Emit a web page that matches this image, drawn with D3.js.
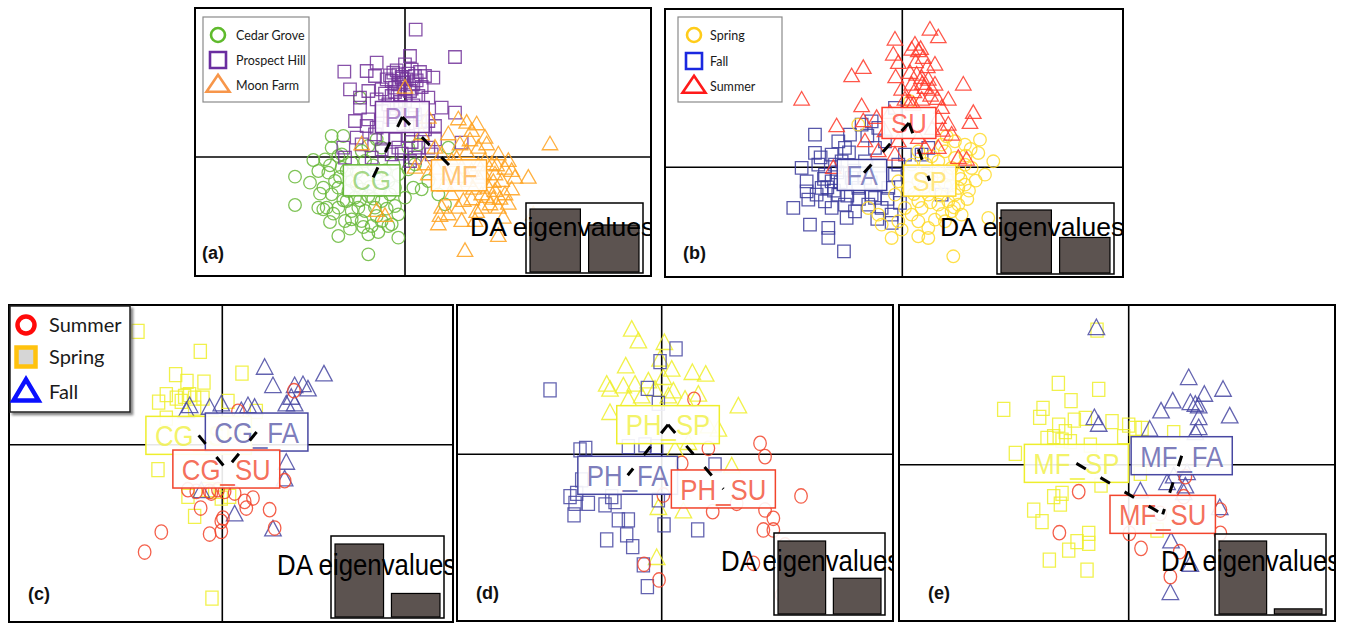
<!DOCTYPE html>
<html><head><meta charset="utf-8">
<script src="https://cdn.jsdelivr.net/npm/d3@7"></script>
<style>
html,body{margin:0;padding:0;background:#fff;}
svg{display:block;}
</style></head><body>
<svg id="fig" width="1348" height="623"></svg>
<script>
// ---------------- data: discriminant scores (LD1, LD2) ----------------
// (a) sites
const aLegendNames = ["Cedar Grove", "Prospect Hill", "Moon Farm"];
const aGroupNames = ["CG", "PH", "MF"];
const aCG = [[-3.30,-0.59],[-3.30,-1.44],[-2.75,-0.09],[-2.40,-0.07],[-2.20,0.63],[-1.85,0.63],[-2.20,0.28],[-2.00,0.03],[-2.60,-0.42],[-2.30,-0.47],[-2.10,-0.72],[-2.85,-0.77],[-2.45,-0.92],[-1.90,-0.32],[-1.60,-0.17],[-1.30,0.18],[-1.10,0.33],[-0.85,0.53],[-0.70,0.28],[-1.35,1.78],[-2.60,-1.52],[-2.45,-1.57],[-2.20,-1.12],[-2.00,-0.92],[-1.75,-1.32],[-1.50,-1.22],[-1.30,-0.97],[-1.10,-1.17],[-0.90,-1.52],[-0.70,-1.32],[-0.45,-1.12],[-0.30,-1.47],[-0.20,-1.72],[-0.40,-2.02],[-0.70,-1.92],[-1.00,-2.07],[-1.30,-1.92],[-1.60,-1.87],[-1.80,-1.92],[-2.00,-2.37],[-1.10,-2.32],[-0.50,-2.07],[-0.20,-2.42],[-1.10,-2.92],[0.10,-0.37],[0.30,-0.22],[0.50,-0.97],[0.70,-0.72],[1.00,-1.12],[1.20,-1.42],[1.30,0.28],[0.10,0.28],[0.40,0.38],[-0.20,-0.52],[-0.50,-0.72],[-0.85,-0.52],[-1.60,-0.72],[-1.70,-1.02],[-2.00,-1.52],[-1.40,-1.52],[-1.20,-1.62],[-1.60,-1.62],[-0.30,-0.92],[0.00,-1.22],[0.25,-0.92],[-1.90,0.08],[-1.20,-0.12],[-2.35,-1.52],[-0.85,-1.77],[-2.55,-1.10],[-1.45,-0.45],[-0.95,-0.25],[-2.25,-1.95],[-1.25,-2.10],[-2.25,-0.25],[-1.95,-0.60],[-1.75,-0.40],[-1.45,-0.85],[-1.05,-0.90],[-0.75,-1.00],[-0.55,-1.55],[-1.85,-1.30],[-2.15,-1.70],[-1.35,-1.30],[-0.95,-1.25],[-0.60,-0.40],[-0.35,-0.20],[-1.65,-2.15],[-0.80,-2.25]];
const aPH = [[0.32,3.82],[1.50,3.00],[0.15,3.03],[-0.85,2.83],[0.00,2.78],[-1.82,2.56],[-1.15,2.58],[-0.90,2.43],[-0.35,2.53],[-0.20,2.48],[0.10,2.50],[0.30,2.43],[0.60,2.43],[0.85,2.38],[-0.40,2.28],[-0.55,2.33],[-0.05,2.23],[-1.65,2.03],[-1.10,1.98],[-0.70,2.03],[-0.30,2.08],[0.15,1.98],[0.40,1.83],[-1.35,1.78],[-0.85,1.73],[-0.40,1.83],[-0.15,1.88],[0.70,1.78],[1.10,1.48],[1.50,1.33],[-1.35,1.48],[-1.50,1.08],[-1.10,1.13],[-1.15,0.93],[-0.85,0.88],[-1.45,0.58],[0.70,1.08],[0.90,0.93],[0.60,0.83],[1.70,0.43],[0.90,0.53],[0.70,0.28],[0.80,0.08],[0.30,-0.02],[0.15,-0.12],[-0.20,0.28],[-0.40,0.08],[-0.70,0.23],[-1.30,0.38],[-1.80,-0.02],[-1.85,0.28],[-1.00,-0.02],[-0.30,0.53],[0.10,0.63],[0.40,0.28],[-0.20,2.18],[0.05,2.33],[0.25,2.18],[-0.50,1.58],[0.00,1.68],[-0.70,1.38],[-0.30,1.28],[0.30,1.28],[-0.90,0.68],[-0.05,0.98],[-0.10,2.40],[0.00,2.05],[-0.25,1.45],[-0.45,2.45],[-0.25,2.60],[0.20,2.62],[0.45,2.55],[-0.10,2.35],[0.35,2.30],[-0.30,1.95],[0.20,2.05],[0.50,2.10],[-0.60,1.90],[-0.15,1.65],[0.25,1.55],[-0.45,1.20],[0.45,1.05],[-0.65,0.55],[0.20,0.45],[-0.10,0.10]];
const aMF = [[0.00,2.08],[1.60,1.13],[2.15,0.98],[1.85,1.03],[1.30,0.68],[2.00,0.78],[2.40,0.58],[2.45,0.38],[2.20,0.28],[4.35,0.38],[1.65,0.38],[2.80,0.08],[3.10,-0.12],[2.40,-0.12],[3.20,-0.42],[3.70,-0.62],[2.70,-0.52],[2.90,-0.72],[3.20,-0.97],[2.70,-1.02],[2.50,-0.92],[3.00,-1.12],[2.55,-1.42],[2.30,-1.52],[2.80,-1.52],[2.95,-1.82],[2.00,-1.27],[1.75,-1.32],[1.60,-1.52],[1.40,-1.12],[1.10,-1.52],[1.30,-1.72],[1.05,-1.77],[1.00,-2.02],[1.70,-1.92],[2.10,-1.92],[2.80,-2.37],[1.80,-2.82],[-0.85,-1.62],[-0.60,-1.77],[0.30,-0.32],[0.60,-0.22],[0.70,-0.52],[0.90,0.28],[1.10,0.08],[1.40,-0.12],[1.30,-0.52],[1.70,-0.32],[1.90,-0.72],[1.50,-0.82],[2.20,-0.62],[0.70,1.18],[0.50,0.68],[-1.30,0.38],[3.85,-1.72],[3.90,-2.32],[2.00,-0.42],[3.30,-0.62],[2.60,-0.22],[2.30,-1.12],[2.65,-0.75],[2.85,-1.25],[2.45,-1.20],[1.55,-0.05],[1.85,0.15],[2.20,-0.25],[2.75,-0.25],[3.00,-0.35],[2.35,-0.50],[1.60,-0.60],[2.05,-0.95],[2.65,-1.25],[3.10,-1.40],[2.15,-1.65],[1.20,-0.85],[0.95,-0.35],[1.95,0.50]];
const aCentroids = [[-1.00,-0.70],[-0.08,1.20],[1.62,-0.55]];
const aLinks = [[1,0],[1,2]];
const aEigen = [820, 612];

// (b) seasons
const bLegendNames = ["Spring", "Fall", "Summer"];
const bGroupNames = ["SP", "FA", "SU"];
const bSP = [[-1.32,1.28],[0.23,1.98],[1.33,0.93],[1.58,0.78],[1.88,0.68],[2.33,0.83],[2.28,0.43],[2.73,0.18],[2.48,-0.22],[1.88,0.08],[1.58,0.28],[1.28,0.48],[1.08,0.18],[0.88,0.33],[0.48,0.48],[0.28,0.08],[1.68,-0.22],[1.88,-0.52],[1.58,-0.82],[1.68,-1.12],[1.48,-1.32],[1.78,-1.42],[2.58,-1.52],[1.28,-1.62],[0.98,-1.57],[0.78,-1.82],[0.48,-1.62],[0.28,-1.42],[0.08,-1.22],[-0.12,-1.62],[-0.02,-1.87],[-0.32,-2.12],[-0.62,-1.72],[-1.02,-1.22],[-0.72,-1.42],[0.78,-2.12],[0.48,-2.07],[1.53,-2.67],[1.08,-1.12],[0.78,-0.82],[0.48,-1.02],[0.18,-0.62],[0.48,-0.42],[0.88,-0.32],[1.28,-0.52],[1.08,-0.12],[1.48,-0.02],[-0.22,-0.82],[1.68,-0.62],[2.08,-0.02],[1.38,-1.02],[0.58,-1.22],[-0.12,-0.42],[1.18,0.68],[1.95,-0.95],[1.45,-0.55],[1.15,-0.85],[2.20,-0.40],[0.65,-0.60],[1.00,-0.70],[1.35,-0.25],[1.75,-0.35],[2.00,-0.70],[1.55,-1.20],[1.20,-1.40],[0.85,-1.05],[0.35,-0.80],[1.90,0.35],[2.05,0.55],[0.70,0.10]];
const bFA = [[-2.62,0.98],[-2.62,0.43],[-3.02,-0.02],[-3.27,-1.22],[-2.77,-1.72],[-2.22,-1.82],[-2.22,-2.12],[-1.75,-2.52],[-2.87,-0.42],[-2.87,-0.72],[-2.82,-0.97],[-2.42,-0.62],[-2.32,-0.22],[-2.52,0.08],[-1.92,0.78],[-1.72,0.58],[-2.12,0.38],[-1.82,0.18],[-1.57,0.98],[-1.22,1.28],[-0.92,1.38],[-0.22,1.78],[-0.72,1.18],[-2.12,-0.42],[-1.92,-0.82],[-1.72,-1.12],[-2.12,-1.22],[-1.42,-1.32],[-1.02,-1.12],[-0.82,-0.92],[-0.62,-1.22],[-0.32,-1.42],[-0.32,-1.67],[-0.92,-0.82],[-0.42,-0.62],[-0.22,-0.22],[-0.12,0.08],[0.08,0.38],[0.78,0.58],[-1.32,-0.62],[-1.52,-0.32],[-1.12,0.18],[-0.82,0.58],[-0.52,0.78],[-1.12,-0.32],[-2.32,-1.02],[-2.57,-0.82],[-2.02,0.08],[1.18,-0.82],[0.58,0.38],[-0.07,-1.07],[-1.67,-1.52],[-2.25,-0.60],[-1.65,-0.85],[-1.95,-0.15],[-2.35,-0.35],[-2.05,-0.70],[-1.85,-0.45],[-1.45,-0.10],[-1.30,-0.95],[-0.95,-0.45],[-0.70,0.05],[-0.45,-0.95],[-2.45,0.30],[-1.60,0.45],[-1.05,0.95],[-0.75,-1.55]];
const bSU = [[0.83,4.13],[1.08,3.90],[-0.22,3.83],[0.38,3.68],[0.28,3.53],[0.48,3.48],[0.63,3.28],[-0.27,3.38],[-0.12,3.13],[-1.17,2.98],[-1.52,2.73],[0.23,2.83],[0.43,2.78],[0.58,2.68],[0.78,2.63],[0.98,2.48],[0.68,2.38],[0.88,2.33],[1.83,2.48],[-0.02,2.33],[-3.02,2.03],[-1.22,1.83],[0.23,1.93],[0.58,2.03],[1.38,2.03],[1.18,1.78],[2.13,1.63],[2.03,1.33],[1.38,1.28],[1.48,0.98],[1.08,1.48],[-1.17,1.38],[-1.97,1.23],[-0.77,1.48],[-0.52,1.08],[-0.72,0.48],[-0.22,0.38],[-0.12,0.78],[0.68,0.58],[1.08,0.58],[1.93,0.23],[1.68,0.28],[-1.12,0.78],[-2.07,-0.02],[0.33,1.88],[0.08,2.03],[-0.37,1.63],[0.48,0.88],[0.98,3.08],[0.28,2.48],[0.55,3.55],[0.40,3.15],[0.75,3.00],[0.60,2.50],[0.85,2.15],[1.05,2.05],[0.35,2.25],[-0.20,2.70],[1.20,1.10],[0.90,1.15]];
const bCentroids = [[0.82,-0.40],[-1.21,-0.23],[0.20,1.33]];
const bLinks = [[2,1],[2,0]];
const bEigen = [745, 420];

// (c)-(e) legend
const seasonLegendNames = ["Summer", "Spring", "Fall"];

// (c) Cedar Grove by season
const cGroupNames = ["CG_SP", "CG_FA", "CG_SU"];
const cSP = [[-2.53,3.40],[-0.66,2.80],[-1.40,2.10],[-1.06,1.90],[-0.55,1.88],[0.59,2.15],[-1.68,1.50],[-1.91,1.28],[-1.38,1.40],[-1.13,1.45],[-0.98,1.50],[-0.83,1.40],[-0.58,1.40],[-1.23,1.30],[0.17,1.30],[-1.68,0.80],[-1.93,-0.75],[-1.03,-1.55],[-0.83,-2.15],[-0.03,-1.60],[0.22,-1.55],[-0.31,-4.60],[-0.43,-1.35],[1.02,1.00],[-0.83,1.10],[-0.23,-1.40]];
const cFA = [[1.27,2.30],[1.52,1.75],[3.05,2.10],[2.42,1.78],[2.57,1.65],[2.17,1.75],[1.92,1.20],[2.17,1.20],[2.07,1.40],[0.77,1.15],[0.97,1.10],[-0.03,1.20],[-0.38,1.10],[-0.98,1.15],[-1.08,1.00],[1.92,-0.55],[1.87,-1.05],[0.37,-2.10],[1.52,-2.55],[-0.63,-1.40],[0.57,1.00]];
const cSU = [[2.15,1.62],[0.47,1.00],[1.87,-1.08],[-1.03,-1.35],[-0.78,-1.40],[-0.38,-1.40],[-0.13,-1.35],[0.07,-1.40],[-0.65,-1.90],[0.72,-1.90],[0.92,-1.60],[0.67,-1.70],[1.42,-1.95],[0.02,-2.20],[-0.03,-2.60],[-0.38,-2.68],[-1.83,-2.62],[-2.33,-3.22],[1.57,-2.50],[-0.03,-2.30],[-0.33,-1.45],[0.37,-1.45]];
const cCentroids = [[-0.71,0.28],[1.03,0.38],[0.12,-0.73]];
const cLinks = [[0,2],[1,2]];
const cEigen = [310, 100];

// (d) Prospect Hill by season
const dGroupNames = ["PH_SP", "PH_FA", "PH_SU"];
const dSP = [[-0.90,3.73],[-0.70,3.38],[0.08,3.33],[-0.05,2.83],[-1.08,2.63],[0.30,2.53],[0.92,2.43],[1.32,2.38],[-1.65,2.08],[-1.55,1.93],[-1.15,2.03],[-0.80,2.08],[-0.40,2.18],[0.05,2.28],[-0.20,1.93],[0.35,1.88],[0.70,1.63],[1.10,1.78],[-1.00,1.63],[-0.60,1.73],[2.30,1.43],[-1.55,1.23],[1.70,0.73],[0.80,0.33],[0.40,0.13],[2.10,-0.37],[-0.10,-1.62],[0.65,-1.72],[-0.15,-3.12],[0.20,1.73],[1.40,0.83]];
const dFA = [[0.43,3.16],[-0.05,2.78],[-3.35,1.93],[-0.43,1.98],[-0.10,1.53],[-2.45,0.13],[-2.28,0.18],[-1.00,0.23],[-0.50,0.28],[-0.15,0.23],[1.60,-0.32],[-2.75,-1.27],[-2.55,-1.17],[-2.60,-1.47],[-2.20,-1.47],[-1.70,-1.52],[-1.40,-1.42],[-2.63,-1.82],[-1.30,-1.97],[-1.00,-1.97],[-1.05,-2.42],[-1.65,-2.57],[-0.87,-2.77],[-0.55,-3.32],[-0.43,-3.97],[0.07,-2.12],[1.08,-2.27],[-2.40,-0.77],[-1.50,-1.27],[-0.10,-1.37]];
const dSU = [[0.97,1.65],[2.95,0.33],[3.10,-0.07],[1.40,0.18],[0.60,-0.27],[4.18,-1.25],[3.10,-1.67],[3.35,-1.92],[3.05,-2.27],[3.35,-2.27],[3.70,-2.72],[1.53,-1.72],[2.25,-1.47],[0.05,-1.22],[-0.53,-3.30],[-0.08,-3.77],[2.75,-3.27],[3.60,-4.22]];
const dCentroids = [[0.19,0.89],[-1.02,-0.63],[1.85,-1.04]];
const dLinks = [[0,1],[0,2]];
const dEigen = [288, 141];

// (e) Moon Farm by season
const eGroupNames = ["MF_SP", "MF_FA", "MF_SU"];
const eSP = [[-0.95,4.04],[-2.11,2.44],[-0.90,2.26],[-1.73,1.92],[-3.75,1.66],[-2.57,1.69],[-2.67,1.42],[-2.10,1.19],[-1.63,1.34],[-1.30,1.39],[-0.50,1.29],[0.00,1.19],[0.20,1.09],[0.40,1.09],[-0.15,0.84],[-1.90,0.99],[-2.45,0.79],[-2.25,0.84],[-2.00,0.74],[-1.75,0.69],[-1.15,0.59],[-3.40,0.34],[1.35,0.96],[0.35,-0.26],[-0.83,-0.61],[-2.25,-0.96],[-2.00,-0.86],[-2.05,-1.18],[-2.85,-1.36],[-2.60,-1.71],[-1.20,-2.06],[-1.55,-2.31],[-1.20,-2.36],[-1.80,-2.56],[-2.38,-2.86],[-1.25,-3.16],[0.85,-1.96]];
const eFA = [[-0.97,4.09],[1.80,2.59],[2.83,2.24],[2.27,2.09],[1.32,1.89],[1.85,1.84],[2.00,1.79],[2.10,1.74],[0.97,1.59],[3.03,1.44],[2.10,1.39],[2.10,1.09],[-1.03,1.39],[-0.90,1.19],[0.63,1.04],[2.00,0.94],[1.15,-0.56],[1.70,-0.66],[1.65,-0.86],[0.35,-0.81],[2.73,-1.31],[1.27,-2.31],[1.85,-3.01],[1.25,-3.86],[1.35,-0.36],[1.75,-0.26]];
const eSU = [[-1.50,-0.81],[-2.08,-2.04],[0.02,-2.06],[0.37,-2.51],[1.65,-0.96],[1.70,-0.36],[2.75,-1.36],[2.75,-2.06],[1.53,-2.61],[1.25,-3.36],[0.95,-1.46]];
const eCentroids = [[-1.57,0.04],[1.59,0.27],[1.02,-1.49]];
const eLinks = [[0,2],[1,2]];
const eEigen = [356, 25];

// ---------------- drawing ----------------
const svg = d3.select("#fig");
const defs = svg.append("defs");
const shadow = defs.append("filter").attr("id", "legShadow")
  .attr("x", "-10%").attr("y", "-10%").attr("width", "130%").attr("height", "130%");
shadow.append("feDropShadow").attr("dx", 2.5).attr("dy", 2.5).attr("stdDeviation", 1.2)
  .attr("flood-color", "#666").attr("flood-opacity", 0.8);

const UNIT = 100 / 3; // pixels per discriminant unit

const topSizes = {r: 6.3, s: 12.5, tw: 15.5, th: 13.5, kx: 1};
const botSizes = {r: 7.2, s: 14, tw: 19, th: 15.5, kx: 0.87};

function shapePath(shape, sz) {
  if (shape === "circle") return d3.symbol(d3.symbolCircle, Math.PI * sz.r * sz.r)();
  if (shape === "square") return d3.symbol(d3.symbolSquare, sz.s * sz.s)();
  const w = sz.tw, h = sz.th;
  return `M0,${-h * 0.6}L${w / 2},${h * 0.4}L${-w / 2},${h * 0.4}Z`;
}

function drawPanel(p, idx) {
  const [x0, y0, x1, y1] = p.box;
  const [ox, oy] = p.origin;
  const x = d3.scaleLinear().domain([(x0 - ox) / UNIT, (x1 - ox) / UNIT]).range([x0, x1]);
  const y = d3.scaleLinear().domain([(oy - y1) / UNIT, (oy - y0) / UNIT]).range([y1, y0]);

  defs.append("clipPath").attr("id", "clip" + idx)
    .append("rect").attr("x", x0).attr("y", y0).attr("width", x1 - x0).attr("height", y1 - y0);

  const g = svg.append("g");
  const inner = g.append("g").attr("clip-path", `url(#clip${idx})`);
  inner.append("rect").attr("x", x0).attr("y", y0).attr("width", x1 - x0).attr("height", y1 - y0).attr("fill", "#fff");

  // zero axes
  inner.append("line").attr("x1", x(0)).attr("x2", x(0)).attr("y1", y0).attr("y2", y1)
    .attr("stroke", "#000").attr("stroke-width", 1.6);
  inner.append("line").attr("x1", x0).attr("x2", x1).attr("y1", y(0)).attr("y2", y(0))
    .attr("stroke", "#000").attr("stroke-width", 1.6);

  // individuals
  const sz = p.sizes;
  p.drawOrder.forEach(i => {
    const s = p.series[i];
    inner.append("g").selectAll("path").data(s.values).join("path")
      .attr("d", shapePath(s.shape, sz))
      .attr("transform", d => `translate(${x(d[0])},${y(d[1])}) scale(${sz.kx},1)`)
      .attr("fill", "none")
      .attr("stroke", s.color)
      .attr("stroke-opacity", 0.85)
      .attr("stroke-width", 1.3)
      .attr("vector-effect", "non-scaling-stroke");
  });

  // group labels at centroids
  p.labelOrder.forEach(i => {
    const s = p.series[i];
    const [cxv, cyv] = p.centroids[i];
    const lg = inner.append("g").attr("transform", `translate(${x(cxv)},${y(cyv)})`);
    const rect = lg.append("rect");
    const t = lg.append("text")
      .attr("text-anchor", "middle")
      .attr("y", p.label.size * 0.36)
      .attr("transform", `scale(${p.label.kx},1)`)
      .attr("font-family", "'Liberation Sans', Arial, sans-serif")
      .attr("font-size", p.label.size)
      .attr("fill", s.labelColor)
      .attr("fill-opacity", 0.8)
      .text(p.groupNames[i]);
    const w = t.node().getComputedTextLength() * p.label.kx + 2 * p.label.pad;
    const h = p.label.h;
    rect.attr("x", -w / 2).attr("y", -h / 2).attr("width", w).attr("height", h)
      .attr("fill", "#fff").attr("fill-opacity", 0.9)
      .attr("stroke", s.color).attr("stroke-width", 1.5);
  });

  // minimum spanning tree between group centroids
  p.links.forEach(([a, b]) => {
    inner.append("line")
      .attr("x1", x(p.centroids[a][0])).attr("y1", y(p.centroids[a][1]))
      .attr("x2", x(p.centroids[b][0])).attr("y2", y(p.centroids[b][1]))
      .attr("stroke", "#000").attr("stroke-width", 3)
      .attr("stroke-dasharray", "11,17");
  });

  // eigenvalue inset
  const [ix0, iy0, ix1, iy1] = p.inset;
  inner.append("rect").attr("x", ix0).attr("y", iy0).attr("width", ix1 - ix0).attr("height", iy1 - iy0)
    .attr("fill", "#fff").attr("fill-opacity", 0.88).attr("stroke", "#000").attr("stroke-width", 1.5);
  const bx = d3.scaleBand().domain(d3.range(p.eigen.length)).range([ix0 + 4, ix1 - 4]).paddingInner(0.14);
  const by = d3.scaleLinear().domain([0, d3.max(p.eigen)]).range([iy1 - 1, iy0 + p.insetTop]);
  inner.append("g").selectAll("rect").data(p.eigen).join("rect")
    .attr("x", (d, i) => bx(i)).attr("width", bx.bandwidth())
    .attr("y", d => by(d)).attr("height", d => by(0) - by(d))
    .attr("fill", "#574d4a").attr("fill-opacity", 0.97).attr("stroke", "#000").attr("stroke-width", 1.2);
  inner.append("text")
    .attr("transform", `translate(${p.eigenText[0]},${p.eigenText[1]}) scale(${p.eigenText[3]},1)`)
    .attr("font-family", "'Liberation Sans', Arial, sans-serif")
    .attr("font-size", p.eigenText[2]).attr("fill", "#000")
    .text("DA eigenvalues");

  // frame
  g.append("rect").attr("x", x0).attr("y", y0).attr("width", x1 - x0).attr("height", y1 - y0)
    .attr("fill", "none").attr("stroke", "#000").attr("stroke-width", 2);

  // panel letter
  g.append("text").attr("x", p.letter[0]).attr("y", p.letter[1])
    .attr("font-family", "'Liberation Sans', Arial, sans-serif").attr("font-weight", "bold")
    .attr("font-size", 18).attr("fill", "#111").text(p.letter[2]);
}

function drawLegend(l) {
  const [x0, y0, x1, y1] = l.box;
  const g = svg.append("g");
  g.append("rect").attr("x", x0).attr("y", y0).attr("width", x1 - x0).attr("height", y1 - y0)
    .attr("fill", "#fff").attr("stroke", l.border).attr("stroke-width", l.borderWidth)
    .attr("filter", l.shadow ? "url(#legShadow)" : null);
  l.items.forEach((it, i) => {
    const cy = l.rows[i];
    g.append("path").attr("d", shapePath(it.shape, l.sizes))
      .attr("transform", `translate(${l.symX},${cy})`)
      .attr("fill", it.fill || "none").attr("stroke", it.color).attr("stroke-width", l.symStroke);
    g.append("text").attr("x", l.textX).attr("y", cy + l.fontSize * 0.36)
      .attr("font-family", "Lato, 'Open Sans', sans-serif").attr("font-size", l.fontSize)
      .attr("fill", "#1a1a1a").text(it.name);
  });
}

const GREEN = "#68b83a", PURPLE = "#73349a", ORANGE = "#ffa21e";
const BYELLOW = "#ffda2a", BNAVY = "#3b3b9b", BRED = "#ff3a2a";
const YELLOW = "#eeee2c", NAVY = "#4848a2", RED = "#f2442c";

const panels = [
  {
    box: [195, 8, 651, 276], origin: [405, 157], sizes: topSizes,
    series: [
      {values: aCG, shape: "circle", color: GREEN, labelColor: "#8fce6a"},
      {values: aPH, shape: "square", color: PURPLE, labelColor: "#9b6cc0"},
      {values: aMF, shape: "triangle", color: ORANGE, labelColor: "#ffb450"}
    ],
    drawOrder: [0, 1, 2], labelOrder: [0, 1, 2],
    groupNames: aGroupNames, centroids: aCentroids, links: aLinks,
    label: {size: 28, kx: 0.92, pad: 9, h: 31},
    eigen: aEigen, inset: [526, 203, 643, 273], insetTop: 6, eigenText: [470, 236, 26.5, 1],
    letter: [202, 259, "(a)"]
  },
  {
    box: [665, 9, 1123, 277], origin: [902.3, 167.3], sizes: topSizes,
    series: [
      {values: bSP, shape: "circle", color: BYELLOW, labelColor: "#ffe060"},
      {values: bFA, shape: "square", color: BNAVY, labelColor: "#6a6ab4"},
      {values: bSU, shape: "triangle", color: BRED, labelColor: "#ff4a3a"}
    ],
    drawOrder: [1, 0, 2], labelOrder: [0, 1, 2],
    groupNames: bGroupNames, centroids: bCentroids, links: bLinks,
    label: {size: 28, kx: 0.92, pad: 9, h: 31},
    eigen: bEigen, inset: [997, 203, 1114, 274], insetTop: 7, eigenText: [940, 236, 26.5, 1],
    letter: [683, 259, "(b)"]
  },
  {
    box: [9, 305, 453, 622], origin: [222.3, 444.7], sizes: botSizes,
    series: [
      {values: cSP, shape: "square", color: YELLOW, labelColor: "#f0f040"},
      {values: cFA, shape: "triangle", color: NAVY, labelColor: "#5a5aaa"},
      {values: cSU, shape: "circle", color: RED, labelColor: "#f24a30"}
    ],
    drawOrder: [0, 1, 2], labelOrder: [0, 1, 2],
    groupNames: cGroupNames, centroids: cCentroids, links: cLinks,
    label: {size: 30, kx: 0.86, pad: 9, h: 38},
    eigen: cEigen, inset: [331, 536, 444, 618], insetTop: 8, eigenText: [277, 575, 30, 0.86],
    letter: [28, 600, "(c)"]
  },
  {
    box: [457, 305, 893, 621], origin: [661.7, 454.3], sizes: botSizes,
    series: [
      {values: dSP, shape: "triangle", color: YELLOW, labelColor: "#f0f040"},
      {values: dFA, shape: "square", color: NAVY, labelColor: "#5a5aaa"},
      {values: dSU, shape: "circle", color: RED, labelColor: "#f24a30"}
    ],
    drawOrder: [0, 1, 2], labelOrder: [0, 1, 2],
    groupNames: dGroupNames, centroids: dCentroids, links: dLinks,
    label: {size: 30, kx: 0.86, pad: 9, h: 38},
    eigen: dEigen, inset: [774, 533, 885, 615], insetTop: 8, eigenText: [721, 571, 30, 0.86],
    letter: [476, 599, "(d)"]
  },
  {
    box: [899, 305, 1335, 621], origin: [1128.7, 464.7], sizes: botSizes,
    series: [
      {values: eSP, shape: "square", color: YELLOW, labelColor: "#f0f040"},
      {values: eFA, shape: "triangle", color: NAVY, labelColor: "#5a5aaa"},
      {values: eSU, shape: "circle", color: RED, labelColor: "#f24a30"}
    ],
    drawOrder: [0, 1, 2], labelOrder: [0, 1, 2],
    groupNames: eGroupNames, centroids: eCentroids, links: eLinks,
    label: {size: 30, kx: 0.86, pad: 9, h: 38},
    eigen: eEigen, inset: [1215, 534, 1326, 615], insetTop: 7, eigenText: [1161, 571, 30, 0.86],
    letter: [928, 599, "(e)"]
  }
];

panels.forEach(drawPanel);

drawLegend({
  box: [203, 17, 309, 102], border: "#8a8a8a", borderWidth: 1.2, shadow: false,
  rows: [35, 60, 85], symX: 218, textX: 236, fontSize: 12.5, symStroke: 2.6,
  sizes: {r: 7, s: 16, tw: 23, th: 17},
  items: [
    {name: aLegendNames[0], shape: "circle", color: "#5fba2c"},
    {name: aLegendNames[1], shape: "square", color: "#6a2ea0"},
    {name: aLegendNames[2], shape: "triangle", color: "#f7964a"}
  ]
});
drawLegend({
  box: [678, 17, 782, 102], border: "#8a8a8a", borderWidth: 1.2, shadow: false,
  rows: [35, 61, 86], symX: 694, textX: 710, fontSize: 12.5, symStroke: 2.6,
  sizes: {r: 7, s: 16, tw: 23, th: 17},
  items: [
    {name: bLegendNames[0], shape: "circle", color: "#ffcc1a"},
    {name: bLegendNames[1], shape: "square", color: "#1a28e0"},
    {name: bLegendNames[2], shape: "triangle", color: "#ff1a1a"}
  ]
});
drawLegend({
  box: [10, 306, 130, 412], border: "#222", borderWidth: 1.5, shadow: true,
  rows: [325, 357, 392], symX: 26, textX: 49, fontSize: 20, symStroke: 4.5,
  sizes: {r: 8.5, s: 19, tw: 25, th: 21},
  items: [
    {name: seasonLegendNames[0], shape: "circle", color: "#ff0a0a"},
    {name: seasonLegendNames[1], shape: "square", color: "#ffc20e", fill: "#d6d6d6"},
    {name: seasonLegendNames[2], shape: "triangle", color: "#0a10ff"}
  ]
});
</script>
</body></html>
